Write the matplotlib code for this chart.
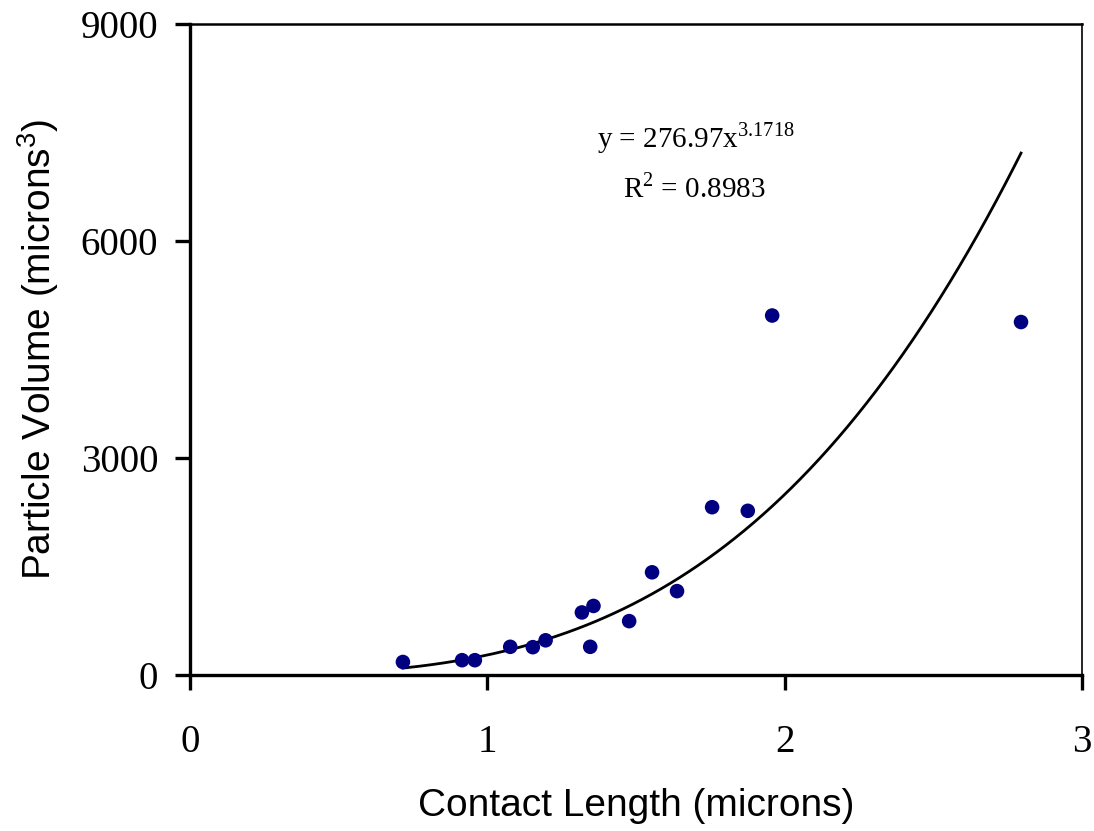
import numpy as np
import matplotlib.pyplot as plt

# contact length (microns) vs particle volume (microns^3)
contact_length = [0.716, 0.915, 0.958, 1.077, 1.153, 1.196, 1.318, 1.357, 1.346, 1.477,
                  1.554, 1.638, 1.756, 1.876, 1.958, 2.795]
particle_volume = [180, 205, 205, 390, 385, 480, 865, 955, 390, 745,
                   1420, 1160, 2320, 2270, 4970, 4880]

# power trendline shown on the chart
coef = 276.97
expo = 3.1718

plt.rcParams['mathtext.fontset'] = 'custom'
plt.rcParams['mathtext.rm'] = 'Liberation Serif'
plt.rcParams['mathtext.sf'] = 'Liberation Sans'

fig = plt.figure(figsize=(10.94, 8.31), dpi=100)
ax = fig.add_axes([0.1737, 0.1877, 0.8153, 0.7834])

xs = np.linspace(min(contact_length), max(contact_length), 200)
ax.plot(xs, coef * xs ** expo, color='black', lw=2.0, zorder=2)
ax.scatter(contact_length, particle_volume, s=110, color='#000080', edgecolors='none', zorder=3)

ax.set_xlim(0, 3)
ax.set_ylim(0, 9000)
ax.set_xticks([0, 1, 2, 3])
ax.set_yticks([0, 3000, 6000, 9000])
ax.tick_params(direction='out', length=11, width=2.4, labelsize=28)
ax.tick_params(axis='x', pad=24)
ax.tick_params(axis='y', pad=12)
for lab in ax.get_xticklabels() + ax.get_yticklabels():
    lab.set_family('Liberation Serif')

ax.spines['left'].set_linewidth(2.4)
ax.spines['bottom'].set_linewidth(2.4)
ax.spines['top'].set_linewidth(1.8)
ax.spines['right'].set_linewidth(1.2)

ax.set_xlabel('Contact Length (microns)', family='Liberation Sans', fontsize=28, labelpad=20)
ax.set_ylabel(r'Particle Volume (microns$^{\mathsf{3}}$)', family='Liberation Sans', fontsize=28, labelpad=14)

ax.text(1.702, 7300, r'y = 276.97x$^{3.1718}$', family='Liberation Serif', fontsize=21, ha='center', va='baseline')
ax.text(1.695, 6610, r'R$^{2}$ = 0.8983', family='Liberation Serif', fontsize=21, ha='center', va='baseline')

fig.savefig('out.png', dpi=100)
